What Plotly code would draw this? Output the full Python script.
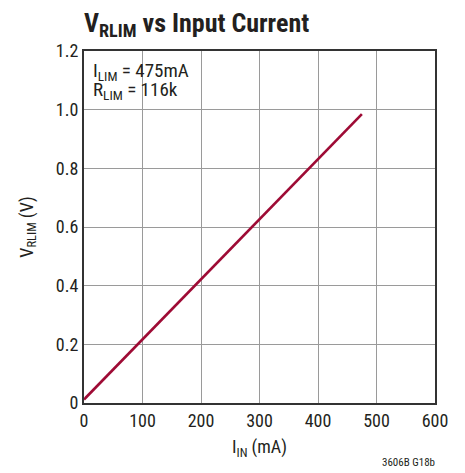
import plotly.graph_objects as go

i_in = [0, 475]
v_rlim = [0.012, 0.985]
x_ticks = [0, 100, 200, 300, 400, 500, 600]
y_ticks = [0, 0.2, 0.4, 0.6, 0.8, 1.0, 1.2]
y_tick_text = ["0", "0.2", "0.4", "0.6", "0.8", "1.0", "1.2"]

FONT = "Liberation Sans Narrow, Roboto Condensed, Arial Narrow, Liberation Sans, sans-serif"
TXT = "#231f20"

fig = go.Figure()
fig.add_trace(go.Scatter(x=i_in, y=v_rlim, mode="lines",
                         line=dict(color="#9E0B35", width=2.6), showlegend=False))

fig.update_layout(
    width=457, height=465,
    margin=dict(l=76, r=30, t=43, b=70),
    paper_bgcolor="white", plot_bgcolor="white",
    font=dict(family=FONT, size=18, color=TXT),
    xaxis=dict(range=[0, 600], tickvals=x_ticks, showgrid=True, gridcolor="#9a9a9a",
               gridwidth=1.3, zeroline=False, showline=True, linecolor="#333",
               linewidth=2, mirror=True, ticks="", tickfont=dict(size=18, color=TXT),
               title=dict(text="I<sub>IN</sub> (mA)", font=dict(size=18, color=TXT), standoff=11)),
    yaxis=dict(range=[0, 1.2], tickvals=y_ticks, ticktext=y_tick_text, showgrid=True,
               gridcolor="#9a9a9a", gridwidth=1.3, zeroline=False, showline=True,
               linecolor="#333", linewidth=2, mirror=True, ticks="",
               tickfont=dict(size=18, color=TXT),
               title=dict(text="V<sub>RLIM</sub> (V)", font=dict(size=18, color=TXT), standoff=18)),
    annotations=[
        dict(text="<b>V<sub>RLIM</sub> vs Input Current</b>", xref="paper", yref="paper",
             x=0, y=1.0, xshift=-2, yshift=27, xanchor="left", yanchor="middle", showarrow=False,
             font=dict(size=26, color=TXT, family=FONT)),
        dict(text="I<sub>LIM</sub> = 475mA", xref="paper", yref="paper",
             x=0.02, y=1.0, yshift=-6, xanchor="left", yanchor="top", showarrow=False, align="left",
             font=dict(size=19, color=TXT, family=FONT)),
        dict(text="R<sub>LIM</sub> = 116k", xref="paper", yref="paper",
             x=0.02, y=1.0, yshift=-25, xanchor="left", yanchor="top", showarrow=False, align="left",
             font=dict(size=19, color=TXT, family=FONT)),
        dict(text="3606B G18b", xref="paper", yref="paper", x=1.0, y=-0.168, xshift=2,
             xanchor="right", yanchor="middle", showarrow=False,
             font=dict(size=11, color=TXT, family=FONT)),
    ],
)

fig.write_html("out.html")
